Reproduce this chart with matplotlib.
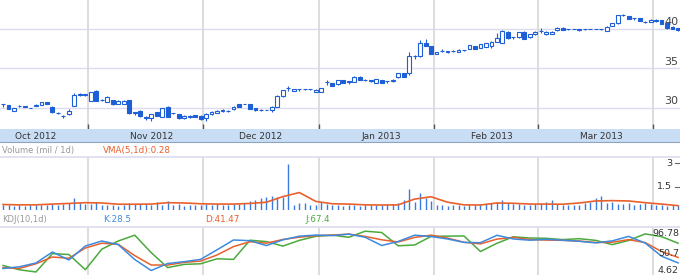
import numpy as np
import matplotlib.pyplot as plt

# daily candles (Sep 2012 - Apr 2013)
opens = [30.45, 30.38, 29.65, 30.25, 30.2, 30.0, 30.25, 30.38, 30.75, 30.15,
         29.4, 28.98, 29.2, 30.3, 31.8, 31.6, 30.9, 32.2, 31.0, 30.8,
         30.95, 30.55, 30.5, 30.95, 29.4, 29.65, 28.8, 28.75, 29.5, 28.85,
         30.15, 29.35, 29.2, 28.7, 28.8, 29.1, 29.0, 28.7, 29.2, 29.4,
         29.6, 29.68, 29.85, 30.45, 30.5, 30.5, 29.95, 29.75, 29.75, 29.7,
         30.15, 31.5, 32.5, 32.15, 32.4, 32.37, 32.37, 32.05, 32.05, 33.25,
         33.1, 33.0, 33.5, 33.35, 33.33, 33.95, 33.55, 33.45, 33.15, 33.55,
         33.4, 33.4, 33.9, 34.4, 34.45, 36.6, 36.6, 38.2, 37.85, 36.85,
         37.26, 37.15, 37.2, 37.1, 37.3, 37.5, 37.85, 37.65, 37.75, 37.9,
         38.4, 38.25, 39.65, 38.95, 38.95, 39.65, 38.95, 39.35, 39.75, 39.35,
         39.4, 39.85, 40.15, 39.97, 40.0, 39.92, 39.96, 40.0, 40.0, 39.96,
         39.75, 40.4, 40.7, 41.78, 41.65, 41.35, 41.35, 40.93, 40.9, 41.2,
         41.15, 40.7, 40.3, 40.1]
closes = [30.45, 29.9, 29.95, 30.22, 30.18, 30.0, 30.4, 30.75, 30.5, 29.45,
          29.38, 28.95, 29.6, 31.6, 31.6, 31.75, 32.0, 30.9, 30.98, 31.45,
          30.45, 30.9, 30.9, 29.35, 29.4, 28.95, 28.78, 29.2, 29.0, 30.0,
          28.9, 29.33, 28.7, 29.0, 29.0, 28.85, 28.55, 29.3, 29.55, 29.65,
          29.8, 29.65, 30.15, 30.15, 30.48, 29.9, 29.7, 29.73, 29.75, 30.15,
          31.55, 32.25, 32.5, 32.4, 32.4, 32.35, 32.35, 32.3, 32.5, 33.25,
          32.8, 33.5, 33.15, 33.35, 33.95, 33.55, 33.53, 33.45, 33.65, 33.2,
          33.4, 33.6, 34.4, 33.95, 36.6, 36.6, 38.25, 37.9, 36.85, 37.1,
          37.24, 37.15, 37.18, 37.4, 37.28, 37.95, 37.5, 38.1, 38.2, 38.4,
          38.8, 39.8, 38.8, 38.95, 39.6, 38.75, 39.35, 39.65, 39.75, 39.65,
          39.65, 40.15, 39.9, 39.95, 40.0, 39.92, 39.96, 40.0, 40.0, 39.96,
          40.3, 40.7, 41.75, 41.78, 41.3, 41.35, 41.0, 40.9, 41.2, 40.95,
          40.65, 40.1, 40.0, 39.85]
highs = [30.5, 30.4, 30.0, 30.35, 30.3, 30.05, 30.45, 30.8, 30.8, 30.2,
         29.5, 29.1, 29.9, 31.95, 31.85, 31.8, 32.05, 32.25, 31.2, 31.5,
         31.0, 30.95, 30.95, 31.0, 29.45, 29.7, 29.0, 29.25, 29.55, 30.05,
         30.2, 29.4, 29.25, 29.05, 29.05, 29.15, 29.05, 29.35, 29.6, 29.75,
         29.85, 29.8, 30.2, 30.5, 30.55, 30.55, 30.0, 29.85, 29.8, 30.2,
         31.6, 32.3, 32.8, 32.45, 32.45, 32.45, 32.45, 32.35, 32.55, 33.5,
         33.15, 33.55, 33.55, 33.4, 34.0, 34.0, 33.65, 33.5, 33.7, 33.6,
         33.45, 33.65, 34.45, 34.45, 37.05, 36.7, 38.6, 38.7, 37.9, 37.15,
         37.45, 37.2, 37.3, 37.45, 37.4, 38.0, 37.9, 38.15, 38.25, 38.45,
         39.5, 39.85, 39.7, 39.0, 39.65, 39.7, 39.4, 39.7, 40.15, 39.7,
         39.7, 40.2, 40.2, 40.05, 40.03, 39.95, 40.0, 40.03, 40.03, 40.0,
         40.35, 40.75, 41.8, 41.95, 41.7, 41.4, 41.4, 41.05, 41.25, 41.25,
         41.2, 40.75, 40.35, 40.15]
lows = [30.15, 29.85, 29.6, 30.1, 30.1, 29.95, 30.2, 30.35, 30.45, 29.4,
        29.25, 28.75, 29.05, 30.25, 31.55, 31.55, 30.85, 30.85, 30.9, 30.75,
        30.4, 30.5, 30.45, 29.3, 29.1, 28.9, 28.45, 28.4, 28.95, 28.8,
        28.85, 29.3, 28.65, 28.65, 28.75, 28.8, 28.5, 28.4, 29.15, 29.35,
        29.55, 29.55, 29.8, 30.1, 30.45, 29.85, 29.65, 29.65, 29.7, 29.55,
        30.1, 31.45, 32.2, 32.1, 32.15, 32.25, 32.25, 32.0, 32.0, 32.95,
        32.75, 32.95, 33.1, 33.05, 33.3, 33.5, 33.45, 33.3, 33.1, 33.15,
        33.1, 33.35, 33.85, 33.9, 34.2, 36.2, 36.5, 37.85, 36.8, 36.8,
        37.1, 36.9, 37.05, 37.05, 37.2, 37.45, 37.45, 37.6, 37.7, 37.6,
        38.35, 38.2, 38.75, 38.7, 38.9, 38.7, 38.9, 39.3, 39.55, 39.3,
        39.35, 39.8, 39.85, 39.85, 39.97, 39.75, 39.92, 39.97, 39.97, 39.92,
        39.7, 40.35, 40.65, 41.6, 41.25, 41.1, 40.95, 40.8, 40.85, 40.9,
        40.6, 40.05, 39.95, 39.8]

volume = [0.30, 0.32, 0.28, 0.30, 0.27, 0.29, 0.31, 0.35, 0.30, 0.38,
          0.33, 0.36, 0.42, 0.80, 0.45, 0.40, 0.38, 0.50, 0.35, 0.30,
          0.33, 0.28, 0.30, 0.42, 0.36, 0.40, 0.38, 0.33, 0.50, 0.35,
          0.58, 0.30, 0.36, 0.28, 0.30, 0.32, 0.35, 0.38, 0.33, 0.36,
          0.30, 0.34, 0.40, 0.38, 0.45, 0.55, 0.65, 0.75, 0.86, 0.92,
          0.86, 0.86, 2.95, 0.30, 0.43, 0.43, 0.30, 0.35, 0.54, 0.40,
          0.33, 0.30, 0.28, 0.30, 0.32, 0.27, 0.30, 0.33, 0.35, 0.30,
          0.38, 0.36, 0.43, 0.65, 1.35, 0.50, 1.10, 0.80, 0.60, 0.35,
          0.30, 0.28, 0.32, 0.30, 0.27, 0.33, 0.30, 0.36, 0.40, 0.45,
          0.50, 0.65, 0.48, 0.40, 0.38, 0.35, 0.30, 0.40, 0.42, 0.50,
          0.65, 0.40, 0.35, 0.30, 0.33, 0.35, 0.42, 0.54, 0.75, 0.90,
          0.45, 0.50, 0.38, 0.40, 0.45, 0.35, 0.40, 0.42, 0.38, 0.30,
          0.33, 0.27, 0.35, 0.30]

# indicators read every 3rd trading day
vma = [0.35, 0.33, 0.33, 0.38, 0.42, 0.47, 0.45, 0.37, 0.37, 0.38,
       0.47, 0.45, 0.40, 0.38, 0.38, 0.42, 0.50, 0.86, 1.12, 0.55,
       0.40, 0.38, 0.33, 0.32, 0.33, 0.70, 0.85, 0.50, 0.33, 0.32,
       0.45, 0.43, 0.38, 0.38, 0.37, 0.45, 0.58, 0.60, 0.58, 0.47,
       0.38, 0.28]
k_line = [15.3, 19.3, 28.3, 54.2, 35.4, 68.4, 80.2, 71.7, 36.5, 10.5,
          27.1, 31.3, 36.8, 59.4, 82.6, 81.0, 69.4, 83.1, 91.6, 94.2,
          93.0, 96.5, 89.0, 69.6, 79.1, 94.0, 90.9, 85.0, 77.0, 76.2,
          93.7, 85.0, 82.1, 84.3, 82.1, 79.5, 75.8, 80.5, 91.1, 75.5,
          44.3, 28.5]
d_line = [17.2, 15.5, 26.4, 42.4, 39.4, 63.7, 75.0, 72.4, 45.7, 23.5,
          23.5, 29.7, 32.7, 47.2, 67.0, 78.6, 75.0, 83.8, 89.2, 92.8,
          94.2, 96.5, 91.1, 83.1, 77.9, 88.7, 94.0, 87.1, 77.2, 73.4,
          84.7, 88.7, 83.8, 82.4, 81.7, 80.2, 76.7, 77.2, 83.5, 76.5,
          55.4, 41.5]
j_line = [22.4, 12.2, 7.0, 50.5, 48.3, 12.4, 60.9, 80.2, 94.0, 52.8,
          17.4, 25.0, 26.4, 38.2, 36.8, 82.1, 78.8, 68.2, 81.7, 91.3,
          94.0, 89.0, 103.4, 100.3, 68.9, 70.8, 91.1, 91.8, 92.1, 55.4,
          74.8, 90.2, 87.3, 86.6, 83.5, 85.7, 81.7, 71.7, 81.4, 97.0,
          90.6, 75.0]

months = ['Oct 2012', 'Nov 2012', 'Dec 2012', 'Jan 2013', 'Feb 2013', 'Mar 2013']
month_label_day = [6, 27, 47, 69, 89, 109]
month_edges = [15.5, 36.5, 57.5, 78.5, 97.5, 118.5]

blue = '#1f5fd6'
red = '#e8602c'
green = '#4aaa3c'
hgrid = '#dcdcf0'
vgrid = '#dadada'

o = np.array(opens); c = np.array(closes)
n = len(c)
days = np.arange(n)
step_days = np.arange(0, n, 3)
xlim = (-0.55, n - 0.64)

W, H = 680, 275
fig = plt.figure(figsize=(6.8, 2.75), dpi=100)

# price panel
ax = fig.add_axes([0, 1 - 129 / H, 1, 129 / H])
ax.set_xlim(xlim)
ax.set_ylim(27.34, 43.67)
ax.axis('off')
for v in [30, 35, 40]:
    ax.axhline(v, color=hgrid, lw=1, zorder=0)
for m in month_edges:
    ax.axvline(m, color=vgrid, lw=1.3, zorder=0)
ax.vlines(month_edges, 0, 0.035, transform=ax.get_xaxis_transform(), color='#555555', lw=1)

up = c >= o
bottom = np.minimum(o, c)
height = np.maximum(np.abs(c - o), 0.03)
ax.vlines(days, lows, highs, color=blue, lw=0.8, zorder=2)
ax.bar(days[up], height[up], 0.7, bottom=bottom[up], facecolor='white',
       edgecolor=blue, lw=0.8, zorder=3)
ax.bar(days[~up], height[~up], 0.7, bottom=bottom[~up], facecolor=blue,
       edgecolor=blue, lw=0.8, zorder=3)
for v in [30, 35, 40]:
    ax.text(664 / W, v + 0.2, str(v), transform=ax.get_yaxis_transform(),
            ha='left', va='bottom', fontsize=8, color='#444444', zorder=5)

# month strip
sx = fig.add_axes([0, 1 - 142 / H, 1, 13 / H])
sx.set_facecolor('#c9ddf4')
sx.set_xlim(xlim)
sx.set_ylim(0, 1)
sx.set_xticks([]); sx.set_yticks([])
for s in ['top', 'left', 'right']:
    sx.spines[s].set_visible(False)
sx.spines['bottom'].set_color('#8fa5bf')
for d, lab in zip(month_label_day, months):
    sx.text(d, 0.45, lab, ha='center', va='center', fontsize=6.5, color='#333333')

# label rows
fig.text(2 / W, 1 - 150 / H, 'Volume (mil / 1d)', fontsize=6, color='#999999', va='center')
fig.text(103 / W, 1 - 150 / H, 'VMA(5,1d):0.28', fontsize=6.3, color=red, va='center')
fig.text(2 / W, 1 - 219 / H, 'KDJ(10,1d)', fontsize=6, color='#999999', va='center')
fig.text(103 / W, 1 - 219 / H, 'K:28.5', fontsize=6.3, color='#3d8ae0', va='center')
fig.text(205 / W, 1 - 219 / H, 'D:41.47', fontsize=6.3, color=red, va='center')
fig.text(305 / W, 1 - 219 / H, 'J:67.4', fontsize=6.3, color=green, va='center')

# volume panel
vx = fig.add_axes([0, 1 - 210 / H, 1, 53 / H])
vx.set_xlim(xlim)
vx.set_ylim(0, 3.4)
vx.axis('off')
vx.plot([0, 1], [1, 1], transform=vx.transAxes, color=hgrid, lw=1.2, clip_on=False)
for m in month_edges:
    vx.axvline(m, color=vgrid, lw=1.3, zorder=0)
vx.vlines(days, 0, volume, color='#3a7be0', lw=1, zorder=2)
vx.plot(step_days, vma, color=red, lw=1.2, zorder=3)
for v, lab in [(3, '3'), (1.5, '1.5')]:
    vx.text(672 / W, v, lab, transform=vx.get_yaxis_transform(), ha='right',
            va='center', fontsize=6.8, color='#333333')
    vx.plot([675 / W, 1], [v, v], transform=vx.get_yaxis_transform(),
            color='#666666', lw=0.8)

# KDJ panel
kx = fig.add_axes([0, 0, 1, 48 / H])
kx.set_xlim(xlim)
kx.set_ylim(-0.1, 113.3)
kx.axis('off')
kx.plot([0, 1], [1, 1], transform=kx.transAxes, color=hgrid, lw=1.2, clip_on=False)
for m in month_edges:
    kx.axvline(m, color=vgrid, lw=1.3, zorder=0)
kx.plot(step_days, j_line, color=green, lw=1.1, zorder=2)
kx.plot(step_days, d_line, color=red, lw=1.1, zorder=3)
kx.plot(step_days, k_line, color='#3d8ae0', lw=1.1, zorder=4)
for v, lab, va in [(96.78, '96.78', 'center'), (50.7, '50.7', 'center'), (1.0, '4.62', 'bottom')]:
    kx.text(679 / W, v, lab, transform=kx.get_yaxis_transform(), ha='right',
            va=va, fontsize=6.8, color='#333333', zorder=5)

fig.savefig('out.png', dpi=100)
